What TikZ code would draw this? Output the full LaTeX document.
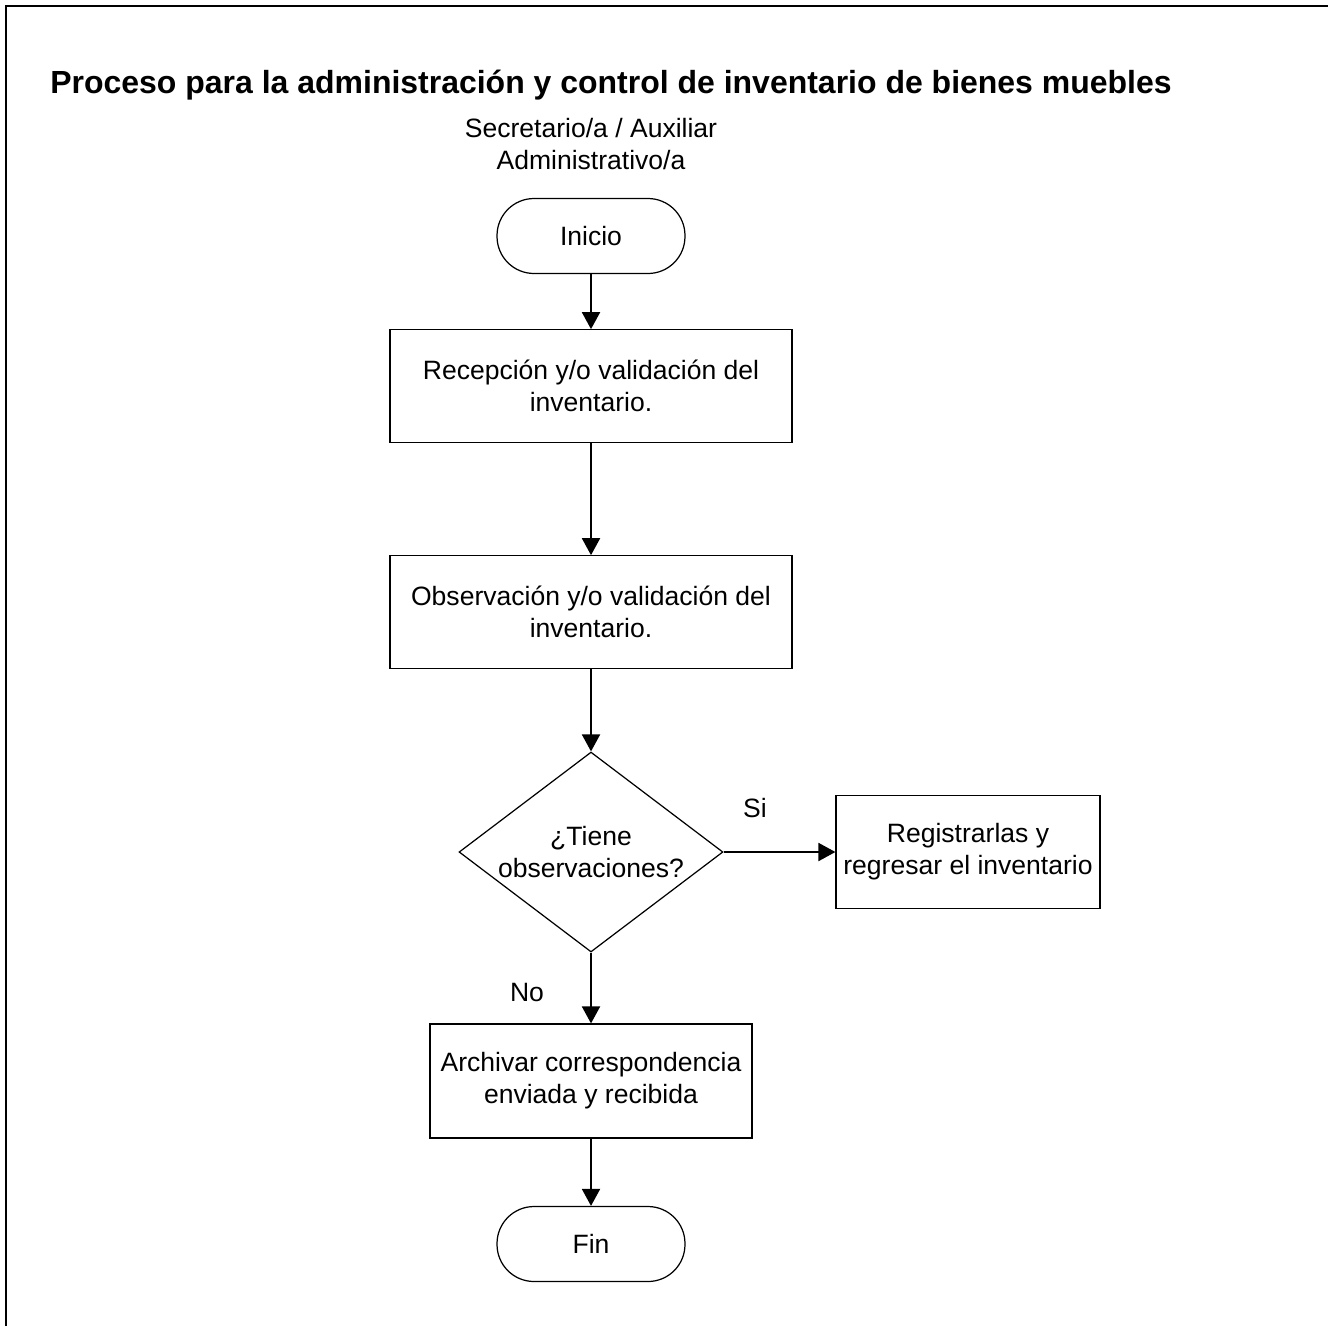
\documentclass[tikz,border=0pt]{standalone}
\usepackage{fontspec}
\setmainfont{Liberation Sans}
\usepackage{tikz}
\usetikzlibrary{shapes.geometric, arrows.meta, positioning, calc}

\begin{document}
\begin{tikzpicture}[x=0.02cm, y=-0.02cm,
  every node/.style={font=\fontsize{15.1}{18.2}\selectfont},
  terminal/.style={draw, line width=0.7pt, rounded corners=0.74cm, minimum width=3.76cm, minimum height=1.5cm},
  process/.style={draw, line width=0.7pt, align=center, minimum height=2.25cm},
  decision/.style={draw, line width=0.7pt, shape=diamond, aspect=1.32, inner sep=0pt, align=center, minimum width=5.28cm, minimum height=4cm},
  flow/.style={line width=1.1pt, -{Triangle[length=0.34cm, width=0.36cm]}}]
\useasboundingbox (0,0) rectangle (1328,1326);
% Frame
\draw[line width=1.2pt] (6,1326) -- (6,6) -- (1328,6);

% Title and lane
\node[anchor=base west, inner sep=0pt, font=\fontsize{18.2}{22}\selectfont\bfseries] (title) at (50,93)
  {Proceso para la administración y control de inventario de bienes muebles};
\node[align=center] (lane) at (591,144) {Secretario/a / Auxiliar\\Administrativo/a};

% Steps
\node[terminal] (inicio) at (591,236) {Inicio};
\node[process, minimum width=8.04cm] (recep) at (591,386) {Recepción y/o validación del\\inventario.};
\node[process, minimum width=8.04cm] (obs) at (591,612) {Observación y/o validación del\\inventario.};
\node[decision] (tiene) at (591,852) {¿Tiene\\observaciones?};
\node[process, minimum width=5.28cm] (reg) at (968,852) {Registrarlas y\\regresar el inventario};
\node[process, minimum width=6.44cm, minimum height=2.28cm] (arch) at (591,1081) {Archivar correspondencia\\enviada y recibida};
\node[terminal] (fin) at (591,1244) {Fin};

% Labels
\node (si) at (755,808) {Si};
\node (no) at (527,992) {No};

% Connectors
\draw[flow] (inicio) -- (recep);
\draw[flow] (recep) -- (obs);
\draw[flow] (obs) -- (tiene);
\draw[flow] (tiene) -- (reg);
\draw[flow] (tiene) -- (arch);
\draw[flow] (arch) -- (fin);
\end{tikzpicture}
\end{document}
